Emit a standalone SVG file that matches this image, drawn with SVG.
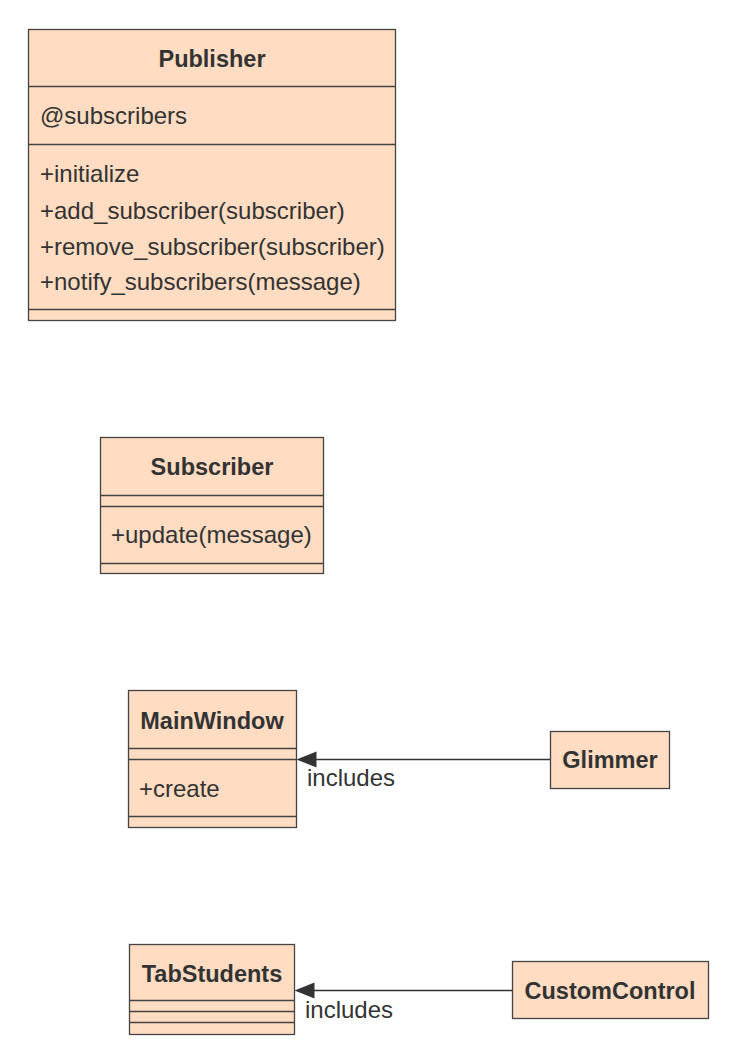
<svg xmlns="http://www.w3.org/2000/svg" width="737" height="1063" viewBox="0 0 737 1063">
<defs>
<style>
.box{fill:#FFDCC2;stroke:#444;stroke-width:1.3}
.ln{stroke:#444;stroke-width:1.3;fill:none}
.t{font-family:"Liberation Sans",Arial,sans-serif;font-size:24px;fill:#333}
.b{font-weight:bold;text-anchor:middle;font-size:23.5px}
.conn{stroke:#333;stroke-width:1.3;fill:none}
</style>
</defs>
<rect width="737" height="1063" fill="#fff"/>
<g id="Publisher">
<rect class="box" x="28.5" y="29.5" width="367" height="291"/>
<line class="ln" x1="28.5" y1="86.5" x2="395.5" y2="86.5"/>
<line class="ln" x1="28.5" y1="144.5" x2="395.5" y2="144.5"/>
<line class="ln" x1="28.5" y1="309.5" x2="395.5" y2="309.5"/>
<text class="t b" x="212" y="67">Publisher</text>
<text class="t" x="40" y="124">@subscribers</text>
<text class="t" x="40" y="182">+initialize</text>
<text class="t" x="40" y="219">+add_subscriber(subscriber)</text>
<text class="t" x="40" y="255">+remove_subscriber(subscriber)</text>
<text class="t" x="40" y="290">+notify_subscribers(message)</text>
</g>
<g id="Subscriber">
<rect class="box" x="100.5" y="437.5" width="223" height="136"/>
<line class="ln" x1="100.5" y1="495.5" x2="323.5" y2="495.5"/>
<line class="ln" x1="100.5" y1="506.5" x2="323.5" y2="506.5"/>
<line class="ln" x1="100.5" y1="563.5" x2="323.5" y2="563.5"/>
<text class="t b" x="212" y="475">Subscriber</text>
<text class="t" x="111" y="543">+update(message)</text>
</g>
<g id="MainWindow">
<rect class="box" x="128.5" y="690.5" width="168" height="137"/>
<line class="ln" x1="128.5" y1="748.5" x2="296.5" y2="748.5"/>
<line class="ln" x1="128.5" y1="759.5" x2="296.5" y2="759.5"/>
<line class="ln" x1="128.5" y1="816.5" x2="296.5" y2="816.5"/>
<text class="t b" x="212" y="729">MainWindow</text>
<text class="t" x="139" y="797">+create</text>
</g>
<g id="Glimmer">
<rect class="box" x="550.5" y="731.5" width="119" height="57"/>
<text class="t b" x="610" y="768">Glimmer</text>
</g>
<g id="TabStudents">
<rect class="box" x="129.5" y="944.5" width="165" height="90"/>
<line class="ln" x1="129.5" y1="1000.5" x2="294.5" y2="1000.5"/>
<line class="ln" x1="129.5" y1="1011.5" x2="294.5" y2="1011.5"/>
<line class="ln" x1="129.5" y1="1022.5" x2="294.5" y2="1022.5"/>
<text class="t b" x="212" y="982">TabStudents</text>
</g>
<g id="CustomControl">
<rect class="box" x="512.5" y="961.5" width="196" height="57"/>
<text class="t b" x="610" y="999">CustomControl</text>
</g>
<g id="connectors">
<path class="conn" d="M550,759.5 L316,759.5"/>
<path d="M296.5,759.5 L316.5,751.5 L316.5,767.5 Z" fill="#333"/>
<text class="t" x="307" y="786">includes</text>
<path class="conn" d="M512,990.5 L314,990.5"/>
<path d="M294.5,990.5 L314.5,982.5 L314.5,998.5 Z" fill="#333"/>
<text class="t" x="305" y="1018">includes</text>
</g>
</svg>
